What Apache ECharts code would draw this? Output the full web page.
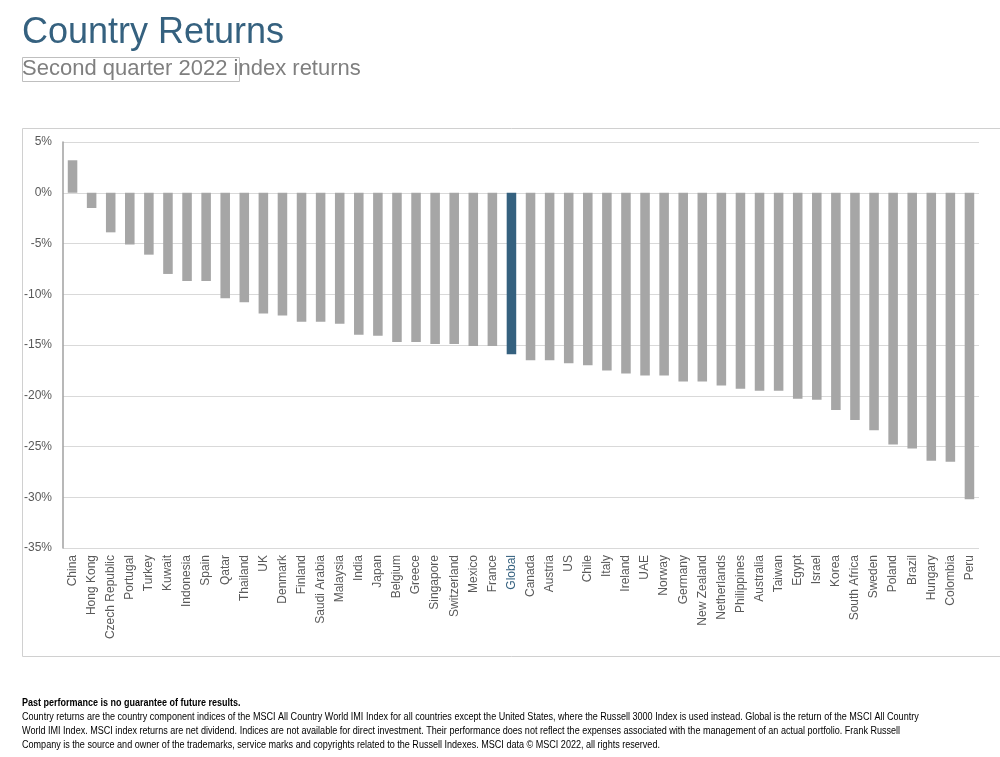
<!DOCTYPE html>
<html>
<head>
<meta charset="utf-8">
<style>
html,body{margin:0;padding:0;background:#fff;}
#chart{width:1000px;height:757px;}
</style>
<script src="https://cdn.jsdelivr.net/npm/echarts@6/dist/echarts.min.js"></script>
</head>
<body>
<div id="chart"></div>
<script>
const categories = ["China","Hong Kong","Czech Republic","Portugal","Turkey","Kuwait","Indonesia","Spain","Qatar","Thailand","UK","Denmark","Finland","Saudi Arabia","Malaysia","India","Japan","Belgium","Greece","Singapore","Switzerland","Mexico","France","Global","Canada","Austria","US","Chile","Italy","Ireland","UAE","Norway","Germany","New Zealand","Netherlands","Philippines","Australia","Taiwan","Egypt","Israel","Korea","South Africa","Sweden","Poland","Brazil","Hungary","Colombia","Peru"];
const returns = [3.2,-1.5,-3.9,-5.1,-6.1,-8.0,-8.7,-8.7,-10.4,-10.8,-11.9,-12.1,-12.7,-12.7,-12.9,-14.0,-14.1,-14.7,-14.7,-14.9,-14.9,-15.1,-15.1,-15.9,-16.5,-16.5,-16.8,-17.0,-17.5,-17.8,-18.0,-18.0,-18.6,-18.6,-19.0,-19.3,-19.5,-19.5,-20.3,-20.4,-21.4,-22.4,-23.4,-24.8,-25.2,-26.4,-26.5,-30.2];
const yTicks = {min:-35, max:5, interval:5};
const highlight = "Global";
const titleText = "Country Returns";
const subtitleText = "Second quarter 2022 index returns";
const footBold = "Past performance is no guarantee of future results.";
const footLines = [
 "Country returns are the country component indices of the MSCI All Country World IMI Index for all countries except the United States, where the Russell 3000 Index is used instead. Global is the return of the MSCI All Country",
 "World IMI Index. MSCI index returns are net dividend. Indices are not available for direct investment. Their performance does not reflect the expenses associated with the management of an actual portfolio. Frank Russell",
 "Company is the source and owner of the trademarks, service marks and copyrights related to the Russell Indexes. MSCI data \u00A9 MSCI 2022, all rights reserved."
];

const BLUE = '#35617f';
const GREY = '#a6a6a6';
const TXT = '#595959';
const sans = '"Liberation Sans",Arial,sans-serif';

const chart = echarts.init(document.getElementById('chart'), null, {renderer:'canvas'});
const graphics = [
  {type:'rect', shape:{x:22.5,y:128.5,width:990,height:528}, style:{fill:'none',stroke:'#d0d0d0',lineWidth:1}, z:-1},
  {type:'text', x:22, y:15, style:{text:titleText, font:'36px '+sans, fill:BLUE, textVerticalAlign:'top'}},
  {type:'text', x:22, y:58, style:{text:subtitleText, font:'22px '+sans, fill:'#7f7f7f', textVerticalAlign:'top'}},
  {type:'rect', shape:{x:22.5,y:57.5,width:217,height:24}, style:{fill:'none',stroke:'#bfbfbf',lineWidth:1}},
  {type:'text', x:22, y:698, scaleX:0.9, style:{text:footBold, font:'bold 10px '+sans, fill:'#000', textVerticalAlign:'top'}}
];
footLines.forEach((t,i)=>{
  graphics.push({type:'text', x:22, y:712+i*14, scaleX:0.905, style:{text:t, font:'10px '+sans, fill:'#000', textVerticalAlign:'top'}});
});

chart.setOption({
  animation:false,
  backgroundColor:'#fff',
  graphic: graphics,
  grid:{left:63, right:21, top:142, bottom:209, containLabel:false},
  xAxis:{
    type:'category', data:categories,
    axisLine:{show:false}, axisTick:{show:false},
    axisLabel:{
      interval:0, rotate:90, fontSize:12, margin:7,
      fontFamily:sans,
      color:(v)=> v===highlight ? BLUE : TXT
    }
  },
  yAxis:{
    type:'value', min:yTicks.min, max:yTicks.max, interval:yTicks.interval,
    axisLine:{show:true, lineStyle:{color:'#a0a0a0', width:1.5}},
    axisTick:{show:false},
    splitLine:{lineStyle:{color:'#d9d9d9', width:1}},
    axisLabel:{formatter:'{value}%', fontSize:12, color:TXT, margin:11, fontFamily:sans}
  },
  series:[{
    type:'bar',
    data: returns.map((v,i)=>({value:v, itemStyle:{color: categories[i]===highlight ? BLUE : GREY}})),
    barWidth:'50%'
  }]
});
</script>
</body>
</html>
